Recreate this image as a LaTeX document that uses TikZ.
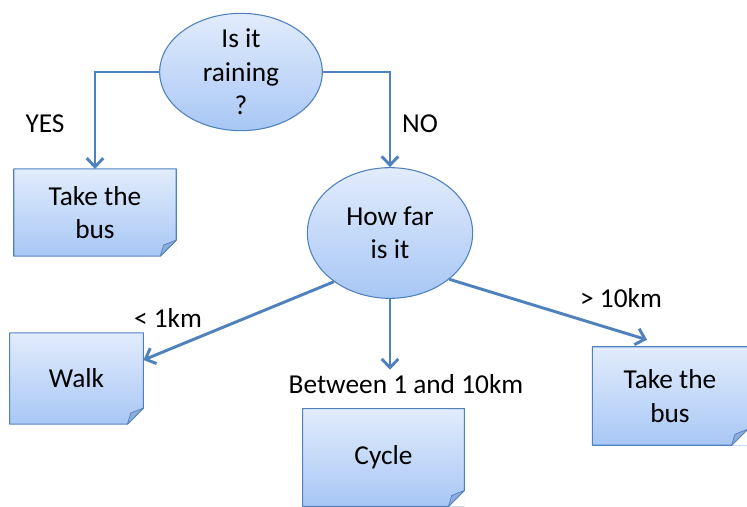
\documentclass[tikz,border=0pt]{standalone}
\usepackage{fontspec}
\setmainfont{Carlito}
\usetikzlibrary{arrows.meta,shapes.geometric}
\definecolor{lineblue}{HTML}{4F81BD}
\definecolor{filltop}{HTML}{E2ECFC}
\definecolor{fillbot}{HTML}{A8C7F5}
\definecolor{foldblue}{HTML}{8EACDA}

\tikzset{
	arr/.style={draw=lineblue, line width=2.2pt, -{Straight Barb[length=6.5pt,width=12.5pt]}},
	decision/.style={ellipse, draw=lineblue, line width=0.8pt, top color=filltop, bottom color=fillbot, inner sep=0pt},
	note/.style={rectangle, top color=filltop, bottom color=fillbot, align=center, inner sep=2pt},
	noteline/.style={draw=lineblue, line width=0.8pt, line join=round}
}

\begin{document}
\begin{tikzpicture}[x=0.75pt, y=-0.75pt, font=\fontsize{20.5}{25}\selectfont]
	\useasboundingbox (0,0) rectangle (747,507);
	% questions
	\node[decision, minimum width=122pt, minimum height=88pt] (rain) at (241,72) {};
	\node[align=center] (raintxt) at (rain) {Is it\\raining\\?};
	\node[decision, minimum width=124pt, minimum height=98pt] (far) at (390,233) {};
	\node[align=center] (fartxt) at (far) {How far\\is it};
	% answers
	\node[note, minimum width=121.5pt, minimum height=65pt] (busL) at (95,212.5) {Take the\\bus};
	\node[note, minimum width=100pt, minimum height=68pt] (walk) at (76.5,378.5) {Walk};
	\node[note, minimum width=121pt, minimum height=73pt] (cycle) at (383.5,457.5) {Cycle};
	\node[note, minimum width=116pt, minimum height=73.5pt] (busR) at (670,396) {Take the\\bus};
	% folded corners
	\foreach \n in {busL,walk,cycle,busR} {
		\fill[white] (\n.south east) -- ([yshift=12pt]\n.south east) -- ([xshift=-12pt]\n.south east) -- cycle;
		\draw[noteline] (\n.north west) -- (\n.north east) -- ([yshift=12pt]\n.south east)
			-- ([xshift=-12pt]\n.south east) -- (\n.south west) -- cycle;
		\filldraw[noteline, fill=foldblue, line width=0.5pt] ([xshift=-12pt]\n.south east)
			-- ([yshift=12pt]\n.south east) -- ([xshift=-9.5pt,yshift=8.3pt]\n.south east) -- cycle;
	}
	% labels
	\node (yes) at (45,124) {YES};
	\node (no) at (420,124) {NO};
	\node (near) at (168,318) {< 1km};
	\node (away) at (621,298) {> 10km};
	\node (mid) at (406,384) {Between 1 and 10km};
	% arrows
	\draw[arr] (rain.west) -| (busL.north);
	\draw[arr] (rain.east) -| (far.north);
	\draw[arr] (far.221) -- ([yshift=13.9pt]walk.east);
	\draw[arr] (far.south) -- (far.south |- mid.north);
	\draw[arr] (far.322) -- ([xshift=-17.2pt,yshift=5.2pt]busR.north);
\end{tikzpicture}
\end{document}
